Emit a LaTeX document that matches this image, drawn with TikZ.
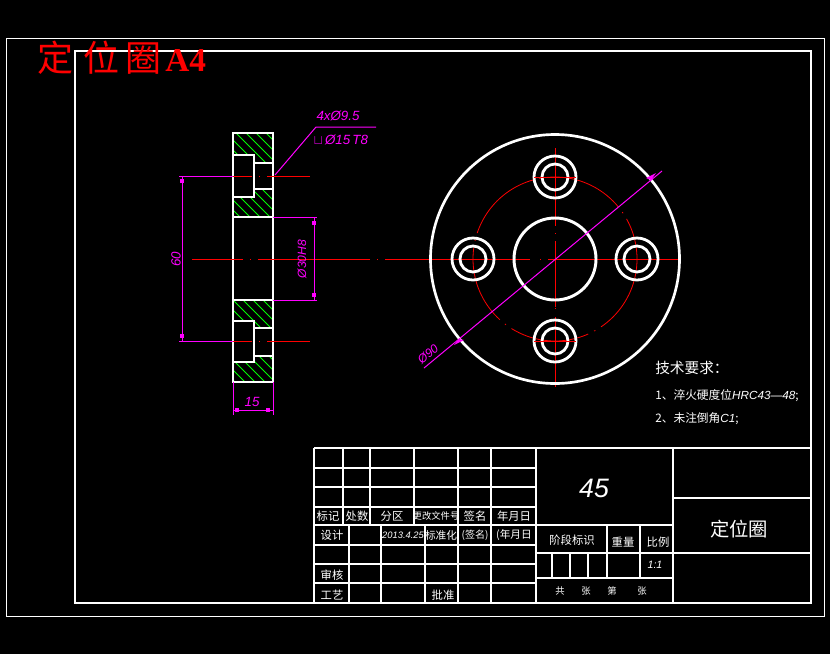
\documentclass[tikz,border=0pt]{standalone}
\usepackage{fontspec}
\newfontfamily\cjk{Noto Sans CJK SC}
\newfontfamily\cadfont[ItalicFont=Liberation Sans Italic]{Liberation Sans}
\newfontfamily\titlefont{Liberation Serif}
\usetikzlibrary{positioning}
\definecolor{dimcol}{RGB}{255,0,255}
\definecolor{hatchcol}{RGB}{0,255,0}

\begin{document}
\begin{tikzpicture}[
    x=0.75pt, y=-0.75pt,
    heavy/.style={draw=white, line width=2.1pt},
    light/.style={draw=white, line width=0.9pt},
    centre/.style={draw=red, line width=0.75pt},
    dimline/.style={draw=dimcol, line width=0.75pt},
    hatch/.style={draw=hatchcol, line width=0.6pt},
    dimtext/.style={text=dimcol, inner sep=0pt, font=\cadfont\itshape\normalsize},
    cell/.style={text=white, inner sep=0pt, font=\cjk\fontsize{8.5}{9}\selectfont},
    note/.style={text=white, inner sep=0pt, anchor=west, font=\cjk\fontsize{8.8}{10}\selectfont},
    tick/.style={fill=dimcol, minimum size=2.5pt, inner sep=0pt}
]
\useasboundingbox[fill=black] (0,0) rectangle (830,654);

% Frames
\draw[draw=white, line width=0.6pt] (6,38) rectangle (824,616);
\draw[heavy] (75,51) rectangle (811,603);

% Section view hatching
\begin{scope}
    \clip (233,133) rectangle (273,155) (254,155) rectangle (273,163)
          (233,197) rectangle (273,217) (254,189) rectangle (273,197)
          (233,300) rectangle (273,321) (254,321) rectangle (273,328)
          (233,362) rectangle (273,382) (254,356) rectangle (273,362);
    \foreach \i in {-12,...,26}
        \draw[hatch] (183,120+\i*10) -- ++(110,110);
\end{scope}

% Section view outline
\draw[heavy] (233,133) rectangle (273,382);
\draw[heavy] (233,155) -- (254,155) -- (254,197) -- (233,197);
\draw[heavy] (254,163) -- (273,163) (254,189) -- (273,189);
\draw[heavy] (233,217) -- (273,217) (233,300) -- (273,300);
\draw[heavy] (233,321) -- (254,321) -- (254,362) -- (233,362);
\draw[heavy] (254,328) -- (273,328) (254,356) -- (273,356);

% Centre lines
\foreach \y in {176.5,341.5} {
    \draw[centre] (233,\y) -- (252,\y) (259,\y) -- (260,\y) (267,\y) -- (310,\y);
    \draw[dimline] (179,\y) -- (233,\y);
}
\draw[centre] (192,259.5) -- (243,259.5) (250,259.5) -- (251,259.5) (258,259.5) -- (370,259.5)
    (377,259.5) -- (378,259.5) (385,259.5) -- (530,259.5) (540,259.5) -- (541,259.5) (548,259.5) -- (680,259.5);
\draw[centre] (555.5,148) -- (555.5,226) (555.5,233) -- (555.5,234) (555.5,241) -- (555.5,307)
    (555.5,308) -- (555.5,309) (555.5,317) -- (555.5,387);

% Dimensions of the section view
\draw[dimline] (182,176) -- (182,341);
\node[tick] (tick60a) at (182,181) {};
\node[tick] (tick60b) at (182,336) {};
\node[dimtext, rotate=90] (dim60) at (176,259) {60};
\draw[dimline] (273,217) -- (317,217) (273,300) -- (317,300) (314,217) -- (314,300);
\node[tick] (tickbore1) at (314,223) {};
\node[tick] (tickbore2) at (314,295) {};
\node[dimtext, rotate=90, font=\cadfont\itshape\small] (dimbore) at (302,259) {Ø30H8};
\draw[dimline] (233,382) -- (233,415) (273,382) -- (273,415) (233,410) -- (273,410);
\node[tick] (tick15a) at (237,410) {};
\node[tick] (tick15b) at (268,410) {};
\node[dimtext] (dim15) at (252,402) {15};

% Hole callout
\draw[dimline] (275,175) -- (316,127) -- (376,127);
\node[dimtext] (callout1) at (338,116) {4xØ9.5};
\node[dimtext] (callout2) at (341,140) {$\sqcup$\,Ø15\,T8};

% Front view
\draw[draw=white, line width=2pt] (555,259) circle (124.5);
\draw[draw=white, line width=2.2pt] (555,259) circle (41);
\draw[draw=red, line width=0.6pt, dash pattern=on 60pt off 5pt on 1pt off 5pt] (555,259) circle (82);
\foreach \cx/\cy in {637/259,555/177,473/259,555/341} {
    \draw[heavy] (\cx,\cy) circle (21);
    \draw[heavy] (\cx,\cy) circle (13);
}
\draw[centre] (534,177.5) -- (576,177.5) (534,341.5) -- (576,341.5);

% Diameter dimension
\draw[dimline] (424,368) -- (662,171);
\fill[dimcol] (651,180) -- (656,173) -- (646,178) -- cycle;
\fill[dimcol] (459,339) -- (454,345) -- (464,340) -- cycle;
\node[dimtext, rotate=40, font=\cadfont\itshape\small] (dim90) at (428,354) {Ø90};

% Technical notes
\node[note, font=\cjk\fontsize{11}{12}\selectfont] (notehead) at (655,368) {技术要求：};
\node[note] (note1) at (655,396) {1、淬火硬度位{\cadfont\itshape HRC43—48};};
\node[note] (note2) at (655,419) {2、未注倒角{\cadfont\itshape C1};};

% Title block, upper left grid
\draw[heavy] (314,448) -- (811,448) (314,448) -- (314,603);
\foreach \x in {343,370,414,458,491}
    \draw[heavy] (\x,448) -- (\x,525);
\foreach \y in {468,487,507}
    \draw[light] (314,\y) -- (536,\y);
\draw[heavy] (314,525) -- (673,525);

% Title block, lower left grid
\foreach \x in {349,381,425,458,491}
    \draw[heavy] (\x,525) -- (\x,603);
\foreach \y in {545,564,583}
    \draw[light] (314,\y) -- (536,\y);

% Title block, right part
\draw[heavy] (536,448) -- (536,603) (673,448) -- (673,603);
\draw[heavy] (673,498) -- (811,498) (536,553) -- (811,553) (536,578) -- (673,578);
\draw[heavy] (607,525) -- (607,578) (640,525) -- (640,578);
\foreach \x in {552,570,588}
    \draw[light] (\x,553) -- (\x,578);

% Title block texts
\node[cell] (biaoji) at (328,516) {标记};
\node[cell] (chushu) at (357,516) {处数};
\node[cell] (fenqu) at (392,516) {分区};
\node[cell, font=\cjk\fontsize{7}{8}\selectfont] (wenjian) at (436,516) {更改文件号};
\node[cell] (qianming) at (475,516) {签名};
\node[cell] (riqi) at (514,516) {年月日};
\node[cell] (sheji) at (332,535) {设计};
\node[cell, font=\cadfont\itshape\scriptsize] (date) at (403,535) {2013.4.25};
\node[cell, font=\cjk\fontsize{8}{9}\selectfont] (biaozhun) at (441,535) {标准化};
\node[cell, font=\cjk\fontsize{7.5}{9}\selectfont] (qianming2) at (475,535) {(签名)};
\node[cell, font=\cjk\fontsize{8}{9}\selectfont] (riqi2) at (514,535) {(年月日};
\node[cell] (shenhe) at (332,575) {审核};
\node[cell] (gongyi) at (332,595) {工艺};
\node[cell] (pizhun) at (443,595) {批准};
\node[cell] (jieduan) at (572,540) {阶段标识};
\node[cell] (zhongliang) at (623,542) {重量};
\node[cell] (bili) at (658,542) {比例};
\node[cell, font=\cadfont\itshape\footnotesize] (ratio) at (655,565) {1:1};
\node[cell, font=\cjk\fontsize{7}{8}\selectfont] (gong) at (560,591) {共};
\node[cell, font=\cjk\fontsize{7}{8}\selectfont] (zhang1) at (586,591) {张};
\node[cell, font=\cjk\fontsize{7}{8}\selectfont] (di) at (612,591) {第};
\node[cell, font=\cjk\fontsize{7}{8}\selectfont] (zhang2) at (642,591) {张};
\node[cell, font=\cadfont\itshape\fontsize{20}{22}\selectfont] (material) at (594,488) {45};
\node[cell, font=\cjk\fontsize{14.5}{16}\selectfont] (partname) at (739,529) {定位圈};

% Sheet title
\node[text=red, inner sep=0pt, anchor=west, font=\cjk\fontsize{27}{28}\selectfont] (sheettitle) at (37,58)
    {定\hspace{7.5pt}位\hspace{4.5pt}圈\hspace{3pt}{\titlefont\bfseries\fontsize{25}{26}\selectfont A4}};
\end{tikzpicture}
\end{document}
